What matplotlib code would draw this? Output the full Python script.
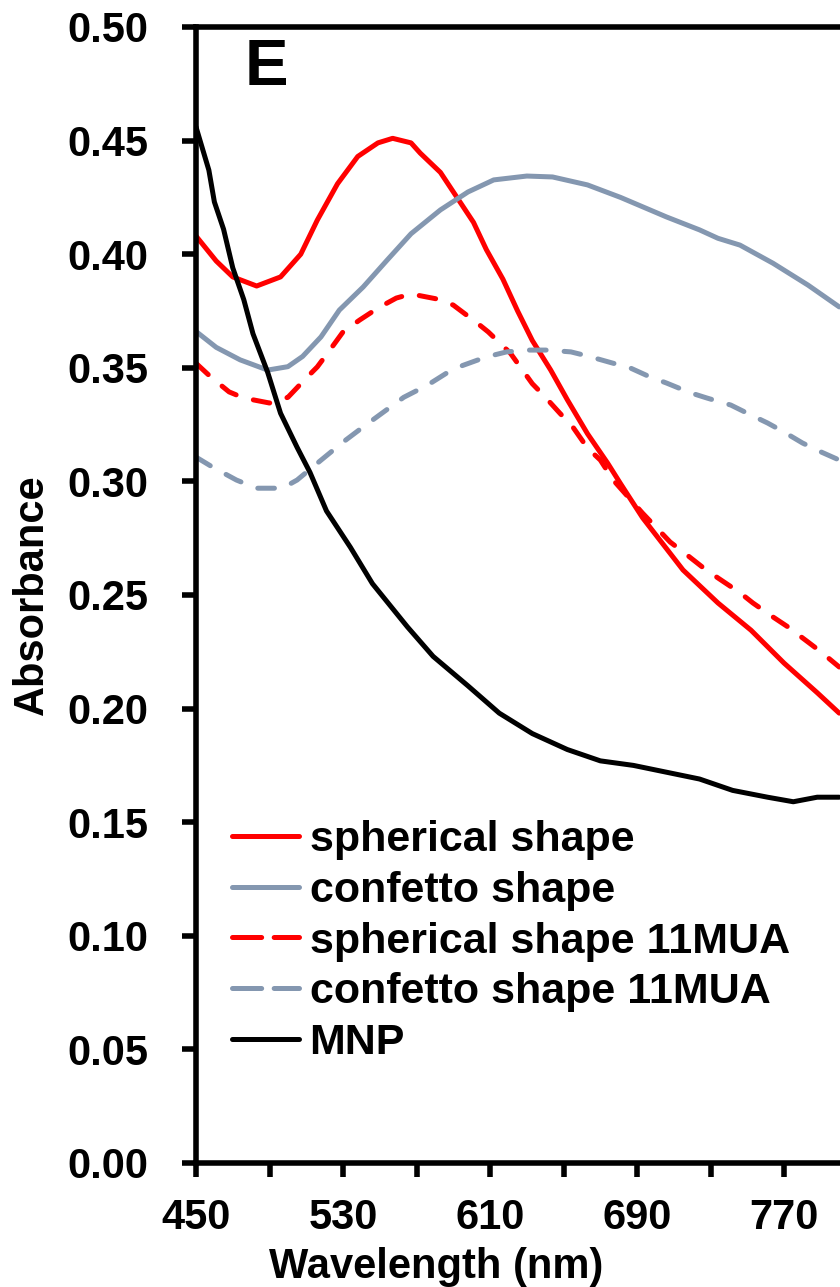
import matplotlib
matplotlib.use('Agg')
import matplotlib.pyplot as plt
from matplotlib.lines import Line2D
from matplotlib.ticker import MultipleLocator, FormatStrFormatter

plt.rcParams['font.family'] = ['Liberation Sans', 'DejaVu Sans']
plt.rcParams['font.weight'] = 'bold'
plt.rcParams['axes.labelweight'] = 'bold'
plt.rcParams['lines.scale_dashes'] = False

# spherical shape (red, solid)
sph_x = [450, 461, 470, 483, 496, 507, 516, 527, 538, 549, 557, 567, 572, 583, 592,
         601, 608, 617, 625, 633, 643, 652, 663, 674, 681, 693, 715, 734, 752, 770, 788, 800]
sph_y = [0.408, 0.397, 0.390, 0.386, 0.390, 0.400, 0.415, 0.431, 0.443, 0.449, 0.451,
         0.449, 0.4445, 0.436, 0.425, 0.414, 0.402, 0.389, 0.375, 0.362, 0.349, 0.336,
         0.321, 0.308, 0.299, 0.284, 0.261, 0.2465, 0.2345, 0.220, 0.207, 0.198]

# confetto shape (blue-grey, solid)
conf_x = [450, 461, 474, 489, 500, 508, 518, 528, 541, 554, 567, 583, 598, 612, 630,
          644, 663, 681, 706, 724, 734, 746, 764, 783, 800]
conf_y = [0.366, 0.359, 0.3535, 0.349, 0.3505, 0.355, 0.3636, 0.3754, 0.3856, 0.3974,
          0.409, 0.4195, 0.4274, 0.4327, 0.4344, 0.434, 0.4305, 0.425, 0.4164, 0.4107,
          0.407, 0.404, 0.396, 0.3864, 0.3768]

# spherical shape 11MUA (red, dashed)
sph11_x = [450, 458, 468, 476, 490, 500, 510, 516, 523, 530, 539, 549, 559, 567, 583,
           590, 603, 609, 621, 625, 633, 639, 648, 655, 663, 670, 677, 693, 708, 715,
           726, 734, 746, 753, 764, 772, 783, 790, 800]
sph11_y = [0.352, 0.346, 0.3394, 0.3367, 0.3345, 0.337, 0.3455, 0.3504, 0.358, 0.3658,
           0.371, 0.3763, 0.3807, 0.3825, 0.380, 0.3776, 0.3697, 0.3658, 0.3565, 0.352,
           0.343, 0.338, 0.330, 0.324, 0.3147, 0.3094, 0.3006, 0.286, 0.2733, 0.269,
           0.262, 0.2575, 0.251, 0.2465, 0.2403, 0.236, 0.2293, 0.225, 0.2183]

# confetto shape 11MUA (blue-grey, dashed)
conf11_x = [450, 459, 472, 483, 497, 505, 516, 530, 541, 552, 563, 576, 587, 595, 608,
            619, 630, 641, 654, 663, 677, 685, 697, 706, 719, 728, 741, 750, 761, 770,
            780, 790, 800]
conf11_y = [0.3107, 0.3063, 0.3006, 0.297, 0.297, 0.3006, 0.308, 0.3173, 0.324, 0.3305,
            0.337, 0.3424, 0.348, 0.351, 0.3548, 0.357, 0.3578, 0.3578, 0.357, 0.3552,
            0.352, 0.3504, 0.346, 0.3433, 0.339, 0.3367, 0.3336, 0.330, 0.3257, 0.3217,
            0.3169, 0.313, 0.3094]

# MNP (black)
mnp_x = [450, 457, 460, 465, 470, 476, 481, 489, 496, 505, 512, 521, 534, 546, 559, 565,
         579, 598, 615, 633, 652, 670, 688, 706, 724, 742, 761, 775, 788, 800]
mnp_y = [0.456, 0.437, 0.423, 0.411, 0.394, 0.380, 0.365, 0.348, 0.330, 0.315, 0.304,
         0.287, 0.271, 0.255, 0.242, 0.236, 0.223, 0.210, 0.198, 0.189, 0.182, 0.177,
         0.175, 0.172, 0.169, 0.164, 0.161, 0.159, 0.161, 0.161]

labels = ['spherical shape', 'confetto shape', 'spherical shape 11MUA',
          'confetto shape 11MUA', 'MNP']

RED = '#FF0000'
GREY = '#8497B0'
LW = 3.6
DASH = (0, (12, 13))

fig = plt.figure(figsize=(8.4, 12.87), dpi=100)
# the reference is cropped at ~801 nm, so the axes end at the figure edge
ax = fig.add_axes([196 / 840, 124 / 1287, 646 / 840, 1136 / 1287])

kw = dict(lw=LW, solid_joinstyle='round', solid_capstyle='round',
          dash_capstyle='round', dash_joinstyle='round')
ax.plot(sph_x, sph_y, color=RED, **kw)
ax.plot(conf_x, conf_y, color=GREY, **kw)
ax.plot(sph11_x, sph11_y, color=RED, linestyle=DASH, **kw)
ax.plot(conf11_x, conf11_y, color=GREY, linestyle=DASH, **kw)
ax.plot(mnp_x, mnp_y, color='black', **kw)

ax.set_xlim(450, 801.5)
ax.set_ylim(0, 0.5)
ax.xaxis.set_major_locator(MultipleLocator(80, offset=50))
ax.xaxis.set_minor_locator(MultipleLocator(40, offset=10))
ax.yaxis.set_major_locator(MultipleLocator(0.05))
ax.yaxis.set_major_formatter(FormatStrFormatter('%.2f'))

for s in ax.spines.values():
    s.set_linewidth(4.0)
ax.spines['right'].set_visible(False)
ax.tick_params(which='both', direction='out', length=10, width=4.0, labelsize=30)
ax.tick_params(axis='y', pad=24)
ax.tick_params(axis='x', which='major', pad=15)

ax.set_xlabel('Wavelength (nm)', fontsize=30, fontweight='bold')
ax.set_ylabel('Absorbance', fontsize=30, fontweight='bold')
ax.xaxis.set_label_coords((436 - 196) / 646, -84 / 1136)
ax.yaxis.set_label_coords((52 - 196) / 646, 0.5)

ax.text((245 - 196) / 646, 0.99, 'E', transform=ax.transAxes, fontsize=47,
        fontweight='bold', va='top', ha='left')

handles = [
    Line2D([], [], color=RED, lw=LW, solid_capstyle='round'),
    Line2D([], [], color=GREY, lw=LW, solid_capstyle='round'),
    Line2D([], [], color=RED, lw=LW, linestyle=(0, (21, 9)), dash_capstyle='round'),
    Line2D([], [], color=GREY, lw=LW, linestyle=(0, (21, 9)), dash_capstyle='round'),
    Line2D([], [], color='black', lw=LW, solid_capstyle='round'),
]
fig.legend(handles, labels, loc='upper left', bbox_to_anchor=(232 / 840, 1 - 820 / 1287),
           frameon=False, fontsize=31, handlelength=1.55, handletextpad=0.25,
           labelspacing=0.25, borderpad=0, borderaxespad=0)

fig.savefig('out.png', dpi=100)
